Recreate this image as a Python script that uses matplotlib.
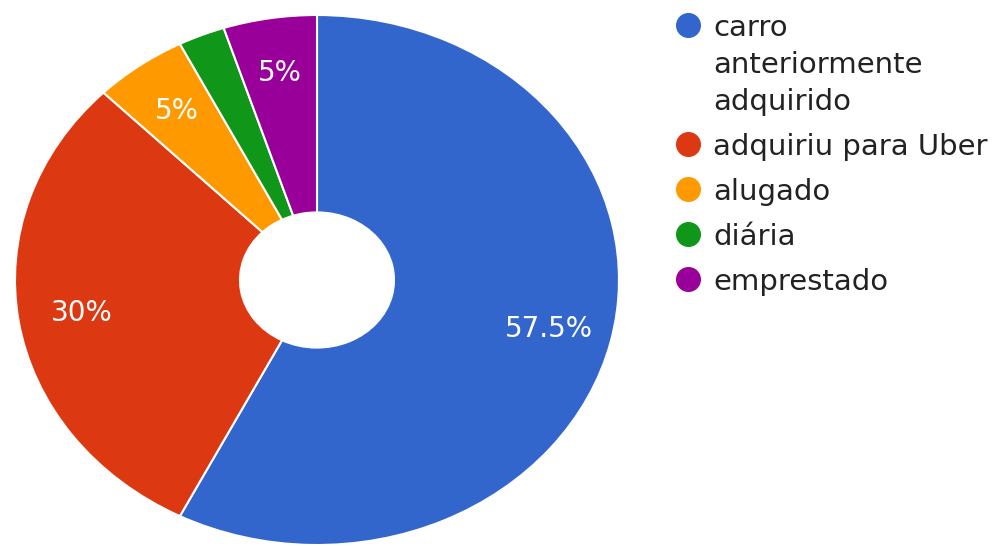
import numpy as np
import matplotlib
matplotlib.use("Agg")
import matplotlib.pyplot as plt

# dados do gráfico
categorias = ["carro\nanteriormente\nadquirido", "adquiriu para Uber", "alugado", "diária", "emprestado"]
valores = [57.5, 30, 5, 2.5, 5]
cores = ["#3366CC", "#DC3912", "#FF9900", "#109618", "#990099"]

plt.rcParams['font.family'] = ['DejaVu Sans']

W, H = 995, 546
fig = plt.figure(figsize=(W / 100, H / 100), dpi=100)

# área da pizza (esticada na horizontal como na imagem original)
left, right, top, bottom = 15, 619, 15, 545
ax = fig.add_axes([left / W, (H - bottom) / H, (right - left) / W, (bottom - top) / H])


def rotulo(p):
    # fatias pequenas ficam sem rótulo
    return f"{p:g}%" if p >= 4 else ""


wedges, texts, autotexts = ax.pie(
    valores, colors=cores, startangle=90, counterclock=False,
    autopct=rotulo, pctdistance=0.79,
    wedgeprops=dict(width=0.745, edgecolor="white", linewidth=1.5),
    textprops=dict(color="white", fontsize=20),
)
ax.set_aspect("auto")
ax.set_xlim(-1, 1)
ax.set_ylim(-1, 1)
ax.axis("off")

# legenda desenhada à mão (marcador + texto com várias linhas)
lax = fig.add_axes([0, 0, 1, 1])
lax.set_xlim(0, W)
lax.set_ylim(H, 0)
lax.axis("off")

x_marcador, x_texto = 688, 713
y = 25
altura_linha, passo = 37, 45
for cat, cor in zip(categorias, cores):
    lax.plot(x_marcador, y, "o", ms=17, color=cor, mec=cor)
    linhas = cat.split("\n")
    for j, linha in enumerate(linhas):
        lax.text(x_texto, y + j * altura_linha + 11, linha, fontsize=21,
                 color="#222222", va="baseline", ha="left")
    y += (len(linhas) - 1) * altura_linha + passo

fig.savefig("out.png", dpi=100)
